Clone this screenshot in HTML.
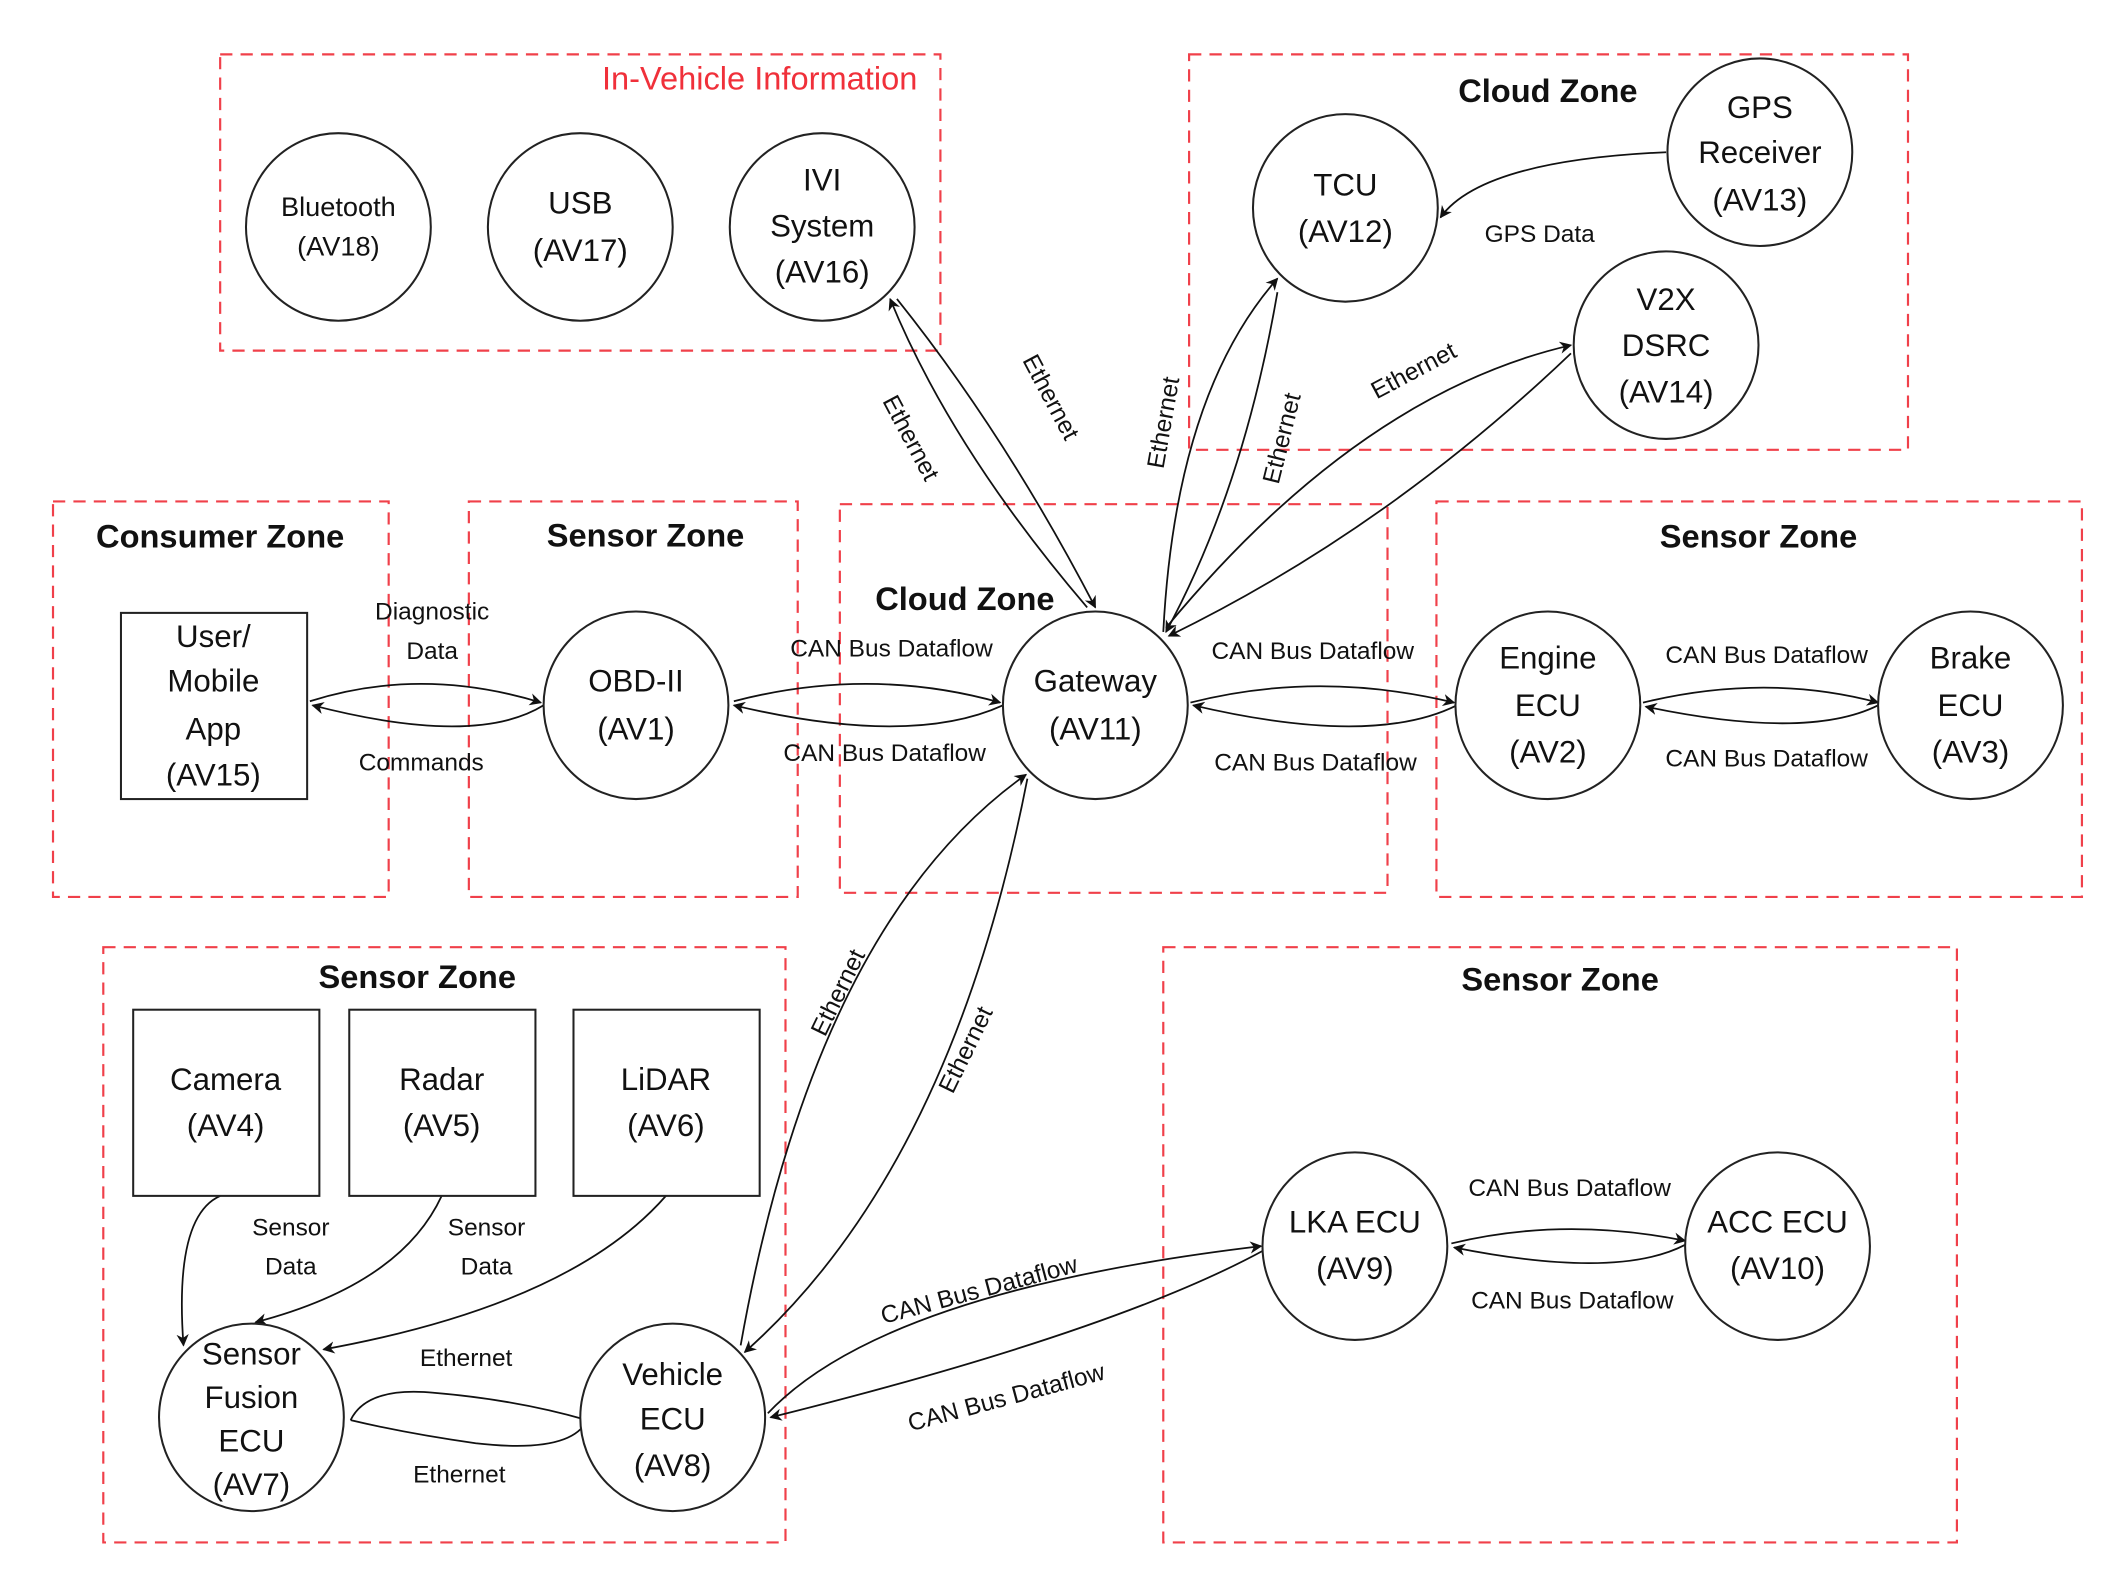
<!DOCTYPE html>
<html><head><meta charset="utf-8"><style>
html,body{margin:0;padding:0;background:#fff;}
svg{display:block;}
text{font-family:"Liberation Sans",sans-serif;fill:#111;}
.z{fill:none;stroke:#f0404a;stroke-width:1.6;stroke-dasharray:9,6;}
.n{fill:#fff;stroke:#222;stroke-width:1.5;}
.e{fill:none;stroke:#111;stroke-width:1.3;}
.t{font-size:23px;text-anchor:middle;}
.l{font-size:18px;text-anchor:middle;}
.h{font-size:24px;font-weight:bold;text-anchor:middle;}
</style></head><body>
<svg width="2120" height="1584" viewBox="0 0 1560 1165.6" xmlns="http://www.w3.org/2000/svg">
<defs><marker id="a" viewBox="0 0 10 10" refX="9" refY="5" markerWidth="9" markerHeight="9" orient="auto-start-reverse" markerUnits="userSpaceOnUse"><path d="M0,0 L10,5 L0,10 L3,5 z" fill="#111"/></marker></defs>

<!-- zones -->
<rect class="z" x="162" y="40" width="530" height="218"/>
<text x="559" y="66" style="font-size:24px;fill:#f0303a;text-anchor:middle">In-Vehicle Information</text>
<rect class="z" x="875" y="40" width="529" height="291"/>
<text class="h" x="1139" y="75">Cloud Zone</text>
<rect class="z" x="39" y="369" width="247" height="291"/>
<text class="h" x="162" y="403">Consumer Zone</text>
<rect class="z" x="345" y="369" width="242" height="291"/>
<text class="h" x="475" y="402">Sensor Zone</text>
<rect class="z" x="618" y="371" width="403" height="286"/>
<text class="h" x="710" y="449">Cloud Zone</text>
<rect class="z" x="1057" y="369" width="475" height="291"/>
<text class="h" x="1294" y="403">Sensor Zone</text>
<rect class="z" x="76" y="697" width="502" height="438"/>
<text class="h" x="307" y="727">Sensor Zone</text>
<rect class="z" x="856" y="697" width="584" height="438"/>
<text class="h" x="1148" y="729">Sensor Zone</text>

<!-- edges -->
<path class="e" d="M228,516 Q310,490 398,517" marker-end="url(#a)"/>
<path class="e" d="M400,519 Q350,550 230,519" marker-end="url(#a)"/>
<path class="e" d="M540,516 Q640,490 736,517" marker-end="url(#a)"/>
<path class="e" d="M738,519 Q670,550 540,519" marker-end="url(#a)"/>
<path class="e" d="M876,517 Q970,493 1070,517" marker-end="url(#a)"/>
<path class="e" d="M1072,519 Q1010,550 878,519" marker-end="url(#a)"/>
<path class="e" d="M1209,517 Q1300,495 1382,517" marker-end="url(#a)"/>
<path class="e" d="M1382,519 Q1330,545 1211,520" marker-end="url(#a)"/>
<path class="e" d="M1068,915 Q1150,895 1240,913" marker-end="url(#a)"/>
<path class="e" d="M1240,916 Q1190,942 1070,918" marker-end="url(#a)"/>
<path class="e" d="M660,220 Q740,320 806,447" marker-end="url(#a)"/>
<path class="e" d="M800,447 Q700,330 655,220" marker-end="url(#a)"/>
<path class="e" d="M856,465 Q865,290 940,205" marker-end="url(#a)"/>
<path class="e" d="M940,215 Q915,360 858,465" marker-end="url(#a)"/>
<path class="e" d="M858,462 Q1000,290 1156,254" marker-end="url(#a)"/>
<path class="e" d="M1156,260 Q1020,390 860,468" marker-end="url(#a)"/>
<path class="e" d="M1226,112 Q1090,118 1060,160" marker-end="url(#a)"/>
<path class="e" d="M545,990 Q600,680 755,570" marker-end="url(#a)"/>
<path class="e" d="M756,573 Q700,860 548,995" marker-end="url(#a)"/>
<path class="e" d="M565,1040 Q650,950 928,917" marker-end="url(#a)"/>
<path class="e" d="M930,920 Q820,980 567,1043" marker-end="url(#a)"/>
<path class="e" d="M258,1045 Q270,1020 320,1025 Q380,1030 432,1045 Q420,1070 350,1062 Q300,1055 258,1045"/>
<path class="e" d="M162,880 Q128,895 135,990" marker-end="url(#a)"/>
<path class="e" d="M325,880 Q295,945 188,973" marker-end="url(#a)"/>
<path class="e" d="M490,880 Q420,960 238,993" marker-end="url(#a)"/>

<!-- nodes -->
<ellipse class="n" cx="249" cy="167" rx="68" ry="69"/>
<text class="t" x="249" y="159" style="font-size:20px">Bluetooth</text><text class="t" x="249" y="188" style="font-size:20px">(AV18)</text>
<ellipse class="n" cx="427" cy="167" rx="68" ry="69"/>
<text class="t" x="427" y="157">USB</text><text class="t" x="427" y="192">(AV17)</text>
<ellipse class="n" cx="605" cy="167" rx="68" ry="69"/>
<text class="t" x="605" y="140">IVI</text><text class="t" x="605" y="174">System</text><text class="t" x="605" y="208">(AV16)</text>
<ellipse class="n" cx="990" cy="153" rx="68" ry="69"/>
<text class="t" x="990" y="144">TCU</text><text class="t" x="990" y="178">(AV12)</text>
<ellipse class="n" cx="1295" cy="112" rx="68" ry="69"/>
<text class="t" x="1295" y="87">GPS</text><text class="t" x="1295" y="120">Receiver</text><text class="t" x="1295" y="155">(AV13)</text>
<ellipse class="n" cx="1226" cy="254" rx="68" ry="69"/>
<text class="t" x="1226" y="228">V2X</text><text class="t" x="1226" y="262">DSRC</text><text class="t" x="1226" y="296">(AV14)</text>
<rect class="n" x="89" y="451" width="137" height="137"/>
<text class="t" x="157" y="476">User/</text><text class="t" x="157" y="509">Mobile</text><text class="t" x="157" y="544">App</text><text class="t" x="157" y="578">(AV15)</text>
<ellipse class="n" cx="468" cy="519" rx="68" ry="69"/>
<text class="t" x="468" y="509">OBD-II</text><text class="t" x="468" y="544">(AV1)</text>
<ellipse class="n" cx="806" cy="519" rx="68" ry="69"/>
<text class="t" x="806" y="509">Gateway</text><text class="t" x="806" y="544">(AV11)</text>
<ellipse class="n" cx="1139" cy="519" rx="68" ry="69"/>
<text class="t" x="1139" y="492">Engine</text><text class="t" x="1139" y="527">ECU</text><text class="t" x="1139" y="561">(AV2)</text>
<ellipse class="n" cx="1450" cy="519" rx="68" ry="69"/>
<text class="t" x="1450" y="492">Brake</text><text class="t" x="1450" y="527">ECU</text><text class="t" x="1450" y="561">(AV3)</text>
<rect class="n" x="98" y="743" width="137" height="137"/>
<text class="t" x="166" y="802">Camera</text><text class="t" x="166" y="836">(AV4)</text>
<rect class="n" x="257" y="743" width="137" height="137"/>
<text class="t" x="325" y="802">Radar</text><text class="t" x="325" y="836">(AV5)</text>
<rect class="n" x="422" y="743" width="137" height="137"/>
<text class="t" x="490" y="802">LiDAR</text><text class="t" x="490" y="836">(AV6)</text>
<ellipse class="n" cx="185" cy="1043" rx="68" ry="69"/>
<text class="t" x="185" y="1004">Sensor</text><text class="t" x="185" y="1036">Fusion</text><text class="t" x="185" y="1068">ECU</text><text class="t" x="185" y="1100">(AV7)</text>
<ellipse class="n" cx="495" cy="1043" rx="68" ry="69"/>
<text class="t" x="495" y="1019">Vehicle</text><text class="t" x="495" y="1052">ECU</text><text class="t" x="495" y="1086">(AV8)</text>
<ellipse class="n" cx="997" cy="917" rx="68" ry="69"/>
<text class="t" x="997" y="907">LKA ECU</text><text class="t" x="997" y="941">(AV9)</text>
<ellipse class="n" cx="1308" cy="917" rx="68" ry="69"/>
<text class="t" x="1308" y="907">ACC ECU</text><text class="t" x="1308" y="941">(AV10)</text>

<!-- labels -->
<text class="l" x="318" y="456">Diagnostic</text><text class="l" x="318" y="485">Data</text>
<text class="l" x="310" y="567">Commands</text>
<text class="l" x="656" y="483">CAN Bus Dataflow</text>
<text class="l" x="651" y="560">CAN Bus Dataflow</text>
<text class="l" x="966" y="485">CAN Bus Dataflow</text>
<text class="l" x="968" y="567">CAN Bus Dataflow</text>
<text class="l" x="1300" y="488">CAN Bus Dataflow</text>
<text class="l" x="1300" y="564">CAN Bus Dataflow</text>
<text class="l" x="1155" y="880">CAN Bus Dataflow</text>
<text class="l" x="1157" y="963">CAN Bus Dataflow</text>
<text class="l" x="1133" y="178">GPS Data</text>
<text class="l" x="214" y="909">Sensor</text><text class="l" x="214" y="938">Data</text>
<text class="l" x="358" y="909">Sensor</text><text class="l" x="358" y="938">Data</text>
<text class="l" x="343" y="1005">Ethernet</text>
<text class="l" x="338" y="1091">Ethernet</text>
<text class="l" transform="translate(665,325) rotate(62)">Ethernet</text>
<text class="l" transform="translate(768,295) rotate(62)">Ethernet</text>
<text class="l" transform="translate(862,312) rotate(-80)">Ethernet</text>
<text class="l" transform="translate(949,324) rotate(-76)">Ethernet</text>
<text class="l" transform="translate(1043,278) rotate(-28)">Ethernet</text>
<text class="l" transform="translate(622,733) rotate(-64)">Ethernet</text>
<text class="l" transform="translate(716,775) rotate(-64)">Ethernet</text>
<text class="l" transform="translate(722,955) rotate(-15)">CAN Bus Dataflow</text>
<text class="l" transform="translate(742,1034) rotate(-15)">CAN Bus Dataflow</text>
</svg>
</body></html>
